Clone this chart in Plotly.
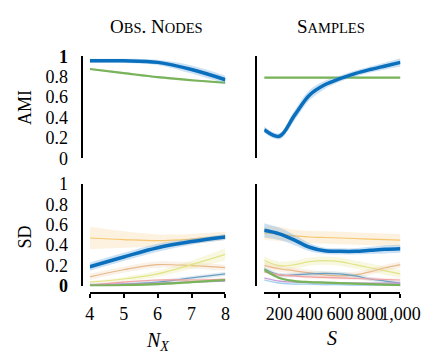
import plotly.graph_objects as go

# ---------------- data ----------------
NX = [4, 5, 6, 7, 8]
S = [100, 200, 300, 400, 500, 600, 700, 800, 900, 1000]

ami_nx_blue = [0.955, 0.955, 0.94, 0.87, 0.77]
ami_nx_blue_err = [0.02, 0.02, 0.025, 0.04, 0.04]
ami_nx_green = [0.875, 0.835, 0.795, 0.765, 0.74]
ami_nx_green_err = [0.01, 0.01, 0.01, 0.01, 0.01]

ami_s_blue = [0.28, 0.215, 0.42, 0.62, 0.72, 0.78, 0.83, 0.87, 0.905, 0.94]
ami_s_blue_err = [0.03, 0.03, 0.05, 0.05, 0.04, 0.03, 0.03, 0.03, 0.035, 0.04]
ami_s_green = [0.79, 0.79, 0.79, 0.79, 0.79, 0.79, 0.79, 0.79, 0.79, 0.79]
ami_s_green_err = [0.01] * 10

sd_nx = {
    "orange": ([0.47, 0.455, 0.445, 0.46, 0.49], [0.11, 0.08, 0.06, 0.05, 0.04]),
    "tan": ([0.09, 0.16, 0.21, 0.20, 0.18], [0.03, 0.03, 0.03, 0.03, 0.03]),
    "ylgreen": ([0.04, 0.07, 0.12, 0.21, 0.31], [0.01, 0.02, 0.03, 0.04, 0.06]),
    "teal": ([0.01, 0.02, 0.04, 0.08, 0.12], [0.02, 0.02, 0.02, 0.02, 0.02]),
    "pink": ([0.01, 0.04, 0.06, 0.06, 0.07], [0.01, 0.01, 0.01, 0.01, 0.01]),
    "purple": ([0.01, 0.02, 0.03, 0.04, 0.05], [0.01, 0.01, 0.01, 0.01, 0.01]),
    "green": ([0.005, 0.01, 0.02, 0.04, 0.06], [0.01, 0.01, 0.01, 0.01, 0.01]),
    "blue": ([0.19, 0.285, 0.375, 0.435, 0.48], [0.04, 0.04, 0.04, 0.03, 0.03]),
}
sd_s = {
    "orange": ([0.52, 0.51, 0.49, 0.48, 0.475, 0.47, 0.465, 0.46, 0.455, 0.45],
               [0.07, 0.07, 0.06, 0.06, 0.06, 0.06, 0.06, 0.06, 0.06, 0.06]),
    "ylgreen": ([0.25, 0.20, 0.21, 0.24, 0.25, 0.24, 0.21, 0.18, 0.15, 0.12],
                [0.04] * 10),
    "tan": ([0.20, 0.17, 0.15, 0.13, 0.11, 0.10, 0.11, 0.14, 0.18, 0.21],
            [0.03] * 10),
    "teal": ([0.17, 0.11, 0.11, 0.12, 0.125, 0.12, 0.10, 0.07, 0.05, 0.03],
             [0.02] * 10),
    "pink": ([0.14, 0.11, 0.10, 0.09, 0.085, 0.08, 0.075, 0.07, 0.065, 0.06],
             [0.015] * 10),
    "lightblue": ([0.06, 0.03, 0.02, 0.02, 0.015, 0.015, 0.01, 0.01, 0.01, 0.01],
                  [0.01] * 10),
    "purple": ([0.08, 0.05, 0.04, 0.035, 0.035, 0.03, 0.03, 0.03, 0.03, 0.03],
               [0.01] * 10),
    "green": ([0.16, 0.08, 0.05, 0.04, 0.035, 0.03, 0.025, 0.02, 0.015, 0.01],
              [0.01] * 10),
    "blue": ([0.545, 0.51, 0.45, 0.38, 0.345, 0.34, 0.34, 0.35, 0.36, 0.365],
             [0.07, 0.06, 0.05, 0.04, 0.03, 0.03, 0.03, 0.035, 0.04, 0.04]),
}

STYLE = {
    "blue": ("#0a6fbd", "rgba(110,170,220,0.35)", 3.5),
    "green": ("#79b35a", "rgba(121,179,90,0.25)", 2.2),
    "orange": ("#f6c670", "rgba(250,210,150,0.30)", 1.2),
    "tan": ("#e8b98a", "rgba(232,185,138,0.20)", 1.2),
    "ylgreen": ("#e2e488", "rgba(226,228,136,0.25)", 1.2),
    "teal": ("#6a9fc0", "rgba(106,159,192,0.20)", 1.2),
    "pink": ("#f2a0a0", "rgba(242,160,160,0.20)", 1.2),
    "purple": ("#c79ad6", "rgba(199,154,214,0.20)", 1.2),
    "lightblue": ("#9fd0ee", "rgba(159,208,238,0.20)", 1.2),
}

W, H = 446, 358
def px(x): return x / W
def py(y): return 1 - y / H

fig = go.Figure()

def add_series(x, y, err, key, xa, ya):
    col, fcol, lw = STYLE[key]
    lo = [a - e for a, e in zip(y, err)]
    hi = [a + e for a, e in zip(y, err)]
    fig.add_trace(go.Scatter(x=x, y=lo, mode="lines", line=dict(width=0, shape="spline"),
                             xaxis=xa, yaxis=ya, showlegend=False, hoverinfo="skip"))
    fig.add_trace(go.Scatter(x=x, y=hi, mode="lines", line=dict(width=0, shape="spline"),
                             fill="tonexty", fillcolor=fcol,
                             xaxis=xa, yaxis=ya, showlegend=False, hoverinfo="skip"))
    fig.add_trace(go.Scatter(x=x, y=y, mode="lines", line=dict(color=col, width=lw, shape="spline"),
                             xaxis=xa, yaxis=ya, showlegend=False))

add_series(NX, ami_nx_green, ami_nx_green_err, "green", "x", "y")
add_series(NX, ami_nx_blue, ami_nx_blue_err, "blue", "x", "y")
add_series(S, ami_s_green, ami_s_green_err, "green", "x2", "y2")
add_series(S, ami_s_blue, ami_s_blue_err, "blue", "x2", "y2")
for k, (v, e) in sd_nx.items():
    add_series(NX, v, e, k, "x3", "y3")
for k, (v, e) in sd_s.items():
    add_series(S, v, e, k, "x4", "y4")

FONT = "Liberation Serif"
xl = [px(90.7), px(234)]
xr = [px(275), px(419)]
yt = [py(157), py(49)]
yb = [py(292.5), py(184)]

ytv = [0, 0.2, 0.4, 0.6, 0.8, 1]
yt_top = ["0", "0.2", "0.4", "0.6", "0.8", "<b>1</b>"]
yt_bot = ["<b>0</b>", "0.2", "0.4", "0.6", "0.8", "1"]
s_ticks = [200, 400, 600, 800, 1000]
s_ticktext = ["200", "400", "600", "800", "1,000"]
nx_ticks = [4, 5, 6, 7, 8]

def yax(domain, pos, labels):
    d = dict(domain=domain, range=[0, 1], anchor="free", position=pos,
             showline=True, linecolor="black", linewidth=2, showgrid=False, zeroline=False,
             ticks="", tickfont=dict(family=FONT, size=18, color="black"))
    if labels is None:
        d["showticklabels"] = False
    else:
        d.update(tickvals=ytv, ticktext=labels, ticklabelstandoff=9)
    return d

def xax_hidden(domain, rng):
    return dict(domain=domain, range=rng, visible=False)

def xax(domain, rng, tv, tt):
    return dict(domain=domain, range=rng, anchor="free", position=py(300),
                showline=True, linecolor="black", linewidth=2, showgrid=False, zeroline=False,
                ticks="outside", ticklen=4, tickwidth=1.5, tickcolor="black",
                tickvals=tv, ticktext=tt, tickangle=0,
                tickfont=dict(family=FONT, size=18, color="black"))

fig.update_layout(
    width=W, height=H, margin=dict(l=0, r=0, t=0, b=0),
    paper_bgcolor="white", plot_bgcolor="white",
    font=dict(family=FONT, color="black"),
    xaxis=xax_hidden(xl, [4, 8]),
    xaxis2=xax_hidden(xr, [100, 1000]),
    xaxis3=xax(xl, [4, 8], nx_ticks, [str(v) for v in nx_ticks]),
    xaxis4=xax(xr, [100, 1000], s_ticks, s_ticktext),
    yaxis=yax(yt, px(82), yt_top),
    yaxis2=yax(yt, px(266), None),
    yaxis3=yax(yb, px(82), yt_bot),
    yaxis4=yax(yb, px(266), None),
)

sm = "font-size:14.5px"
ann = [
    dict(text=f"O<span style='{sm}'>BS</span>. N<span style='{sm}'>ODES</span>", x=px(161), y=py(17), size=19, angle=0),
    dict(text=f"S<span style='{sm}'>AMPLES</span>", x=px(346), y=py(17), size=19, angle=0),
    dict(text="AMI", x=px(22), y=py(103), size=18, angle=-90),
    dict(text="SD", x=px(22), y=py(240), size=18, angle=-90),
    dict(text="<i>N</i><sub><i>X</i></sub>", x=px(162), y=py(351), size=20, angle=0),
    dict(text="<i>S</i>", x=px(347), y=py(347), size=20, angle=0),
]
for a in ann:
    fig.add_annotation(text=a["text"], x=a["x"], y=a["y"], xref="paper", yref="paper",
                       showarrow=False, textangle=a["angle"], xanchor="center", yanchor="middle",
                       font=dict(family=FONT, size=a["size"], color="black"))

fig.write_html("out.html")
